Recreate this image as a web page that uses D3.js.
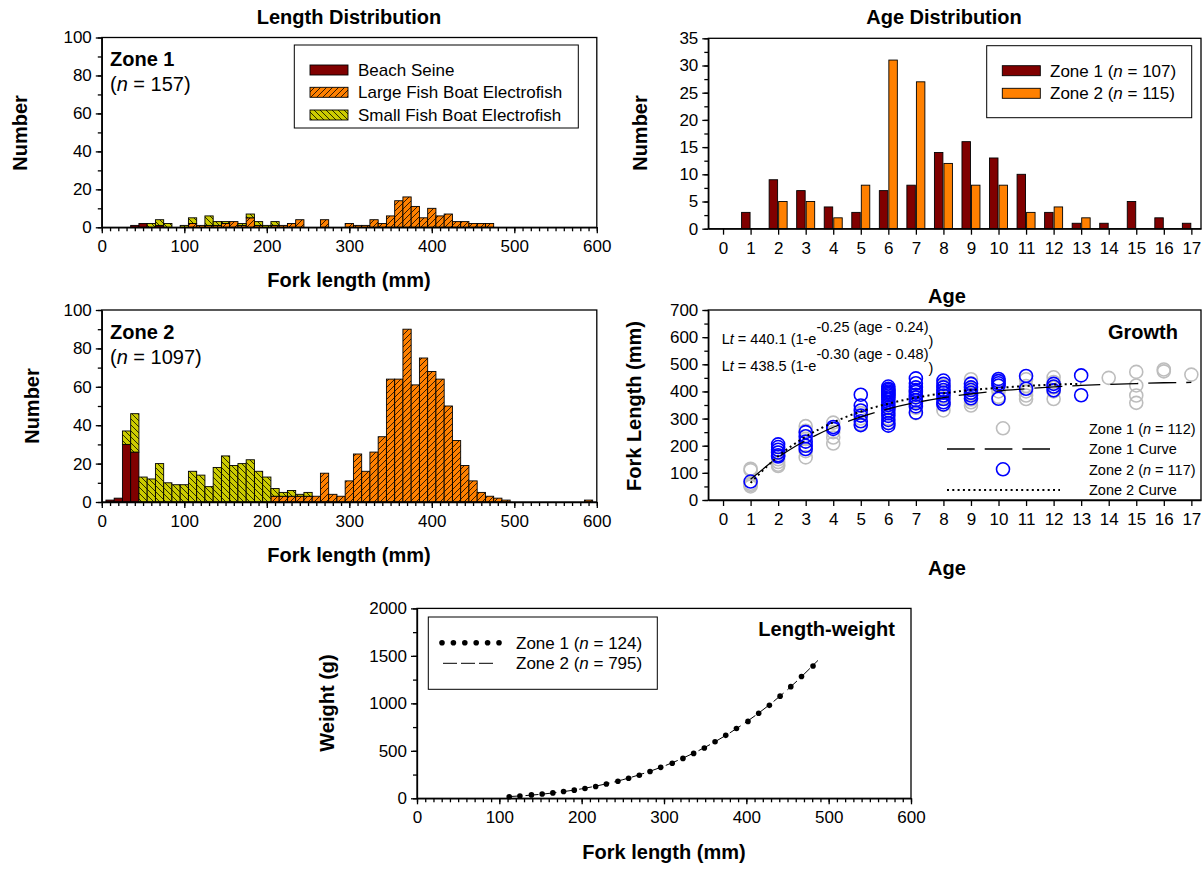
<!DOCTYPE html>
<html><head><meta charset="utf-8">
<script src="https://cdn.jsdelivr.net/npm/d3@7"></script>
<style>
body{margin:0;background:#fff;}
svg{display:block;font-family:"Liberation Sans",Arial,sans-serif;}
</style></head><body>
<svg id="c" width="1202" height="874"></svg>
<script>
// ---------------- DATA ----------------
// Length distribution, Zone 1 (bin centres, mm) and counts by gear
const z1Bins  = [40,50,60,70,80,100,110,120,130,140,150,160,170,180,190,200,210,220,230,240,270,300,310,320,330,340,350,360,370,380,390,400,410,420,430,440,450,460,470];
const z1Seine = [1,2,0,1,0, 0,0,0,0,0, 0,0,0,0,0, 0,0,0,0,0, 0,0,0,0,0, 0,0,0,0,0, 0,0,0,0,0, 0,0,0,0];
const z1Large = [0,0,0,0,0, 0,2,1,1,1, 2,3,1,5,1, 0,1,1,2,4, 4,2,1,1,4, 2,6,14,16,11, 5,10,6,7,3, 3,2,2,2];
const z1Small = [0,0,2,3,2, 1,3,0,5,2, 1,0,1,2,2, 1,2,0,0,0, 0,0,0,0,0, 0,0,0,0,0, 0,0,0,0,0, 0,0,0,0];
// Length distribution, Zone 2
const z2Bins  = [10,20,30,40,50,60,70,80,90,100,110,120,130,140,150,160,170,180,190,200,210,220,230,240,250,260,270,280,290,300,310,320,330,340,350,360,370,380,390,400,410,420,430,440,450,460,470,480,490,590];
const z2Seine = [1,2,30,26,0,0,0,0,0,0, 0,0,0,0,0,0,0,0,0,0, 0,0,0,0,0,0,0,0,0,0, 0,0,0,0,0,0,0,0,0,0, 0,0,0,0,0,0,0,0,0,0];
const z2Large = [0,0,0,0,0,0,0,0,0,0, 0,0,0,0,0,0,0,0,0,0, 3,3,3,3,3,3,15,4,3,11, 25,16,26,34,64,64,90,61,75,68, 64,50,32,19,11,5,3,2,1,1];
const z2Small = [0,0,7,20,13,12,20,10,9,9, 16,14,8,18,24,19,20,22,16,13, 4,2,3,1,2,0,0,0,0,0, 0,0,0,0,0,0,0,0,0,0, 0,0,0,0,0,0,0,0,0,0];
const lenTicks   = [0,100,200,300,400,500,600];
const countTicks = [0,20,40,60,80,100];

// Age distribution
const ages     = [1,2,3,4,5,6,7,8,9,10,11,12,13,14,15,16,17];
const ageZone1 = [3,9,7,4,3,7,8,14,16,13,10,3,1,1,5,2,1];
const ageZone2 = [0,5,5,2,8,31,27,12,8,8,3,4,2,0,0,0,0];
const ageTicks = [0,1,2,3,4,5,6,7,8,9,10,11,12,13,14,15,16,17];
const ageCountTicks = [0,5,10,15,20,25,30,35];

// Growth (age, fork length)
const g1Age = [1,1,1,1,1, 2,2,2,2,2, 3,3,3,3,3, 4,4,4,4, 5,5,5, 6,6,6,6,6,6, 7,7,7,7,7, 8,8,8,8,8, 9,9,9,9,9,9,9, 10,10,10,10, 11,11,11,11,11, 12,12,12,12,12, 14, 15,15,15,15, 16,16, 17];
const g1Len = [115,110,60,55,50, 175,150,140,130,125, 272,255,225,180,157, 285,250,230,208, 320,300,280, 395,380,360,340,300,285, 400,380,360,340,320, 420,400,380,350,330, 445,430,410,390,370,360,348, 440,420,400,380, 445,420,400,385,372, 452,435,415,400,372, 450, 472,422,385,358, 481,474, 462];
const g2Age = [1, 2,2,2,2,2,2, 3,3,3,3,3, 4,4, 5,5,5,5,5,5, 6,6,6,6,6,6,6,6,6,6,6,6,6,6,6,6,6,6, 7,7,7,7,7,7,7,7,7,7,7, 8,8,8,8,8,8,8,8,8, 9,9,9,9,9,9, 10,10,10,10,10, 11,11, 12,12,12, 13,13];
const g2Len = [68, 205,195,185,175,165,160, 250,235,215,200,188, 269,262, 388,348,330,311,290,276, 418,410,405,400,395,390,385,378,370,360,350,340,330,320,310,295,283,274, 448,430,415,405,398,388,378,368,356,345,322, 440,428,415,405,395,385,372,360,352, 428,415,405,395,385,375, 446,438,430,422,373, 457,410, 428,418,404, 459,386];
const curve1Age = [1,2,3,4,5,6,7,8,9,10,11,12,13,14,15,16,17];
const curve1Len = [76,157,219,268,306,336,359,377,391,402,410,417,422,426,429,432,433];
const curve2Age = [1,2,3,4,5,6,7,8,9,10,11,12,13];
const curve2Len = [63,161,233,286,326,355,377,393,405,413,420,425,428];
const growthTicks = [0,100,200,300,400,500,600,700];

// Length-weight
const lw1Len = [112,125,139,152,165,178,191,204,217,230,244,257,270,283,296,310,323,336,349,362,375,388,402,415,428,441,454,467,481];
const lw1Wt  = [17,25,36,46,57,71,86,103,125,151,179,211,243,283,326,369,420,473,530,595,663,735,810,896,979,1076,1176,1283,1394];
const lw2Len = [110,150,200,250,300,350,400,450,487];
const lw2Wt  = [17,42,100,196,339,538,804,1144,1452];
const weightTicks = [0,500,1000,1500,2000];

// ---------------- DRAWING ----------------
const svg = d3.select('#c');
const defs = svg.append('defs');
function hatch(id, color, fwd) {
  const p = defs.append('pattern').attr('id', id).attr('patternUnits','userSpaceOnUse')
    .attr('width',6).attr('height',6);
  p.append('rect').attr('width',6).attr('height',6).attr('fill',color);
  p.append('path').attr('d', fwd ? 'M-1,1 L1,-1 M0,6 L6,0 M5,7 L7,5' : 'M-1,5 L1,7 M0,0 L6,6 M5,-1 L7,1')
    .attr('stroke','#000').attr('stroke-width',0.8);
}
hatch('pLarge', '#FF8000', true);
hatch('pSmall', '#CCCC00', false);
const FILL = {seine:'#800000', large:'url(#pLarge)', small:'url(#pSmall)'};

function styleAxis(s) {
  s.selectAll('.domain').attr('stroke','#000').attr('stroke-width',1.3);
  s.selectAll('.tick line').attr('stroke','#000').attr('stroke-width',1.3);
  s.selectAll('text').attr('font-size',17).attr('fill','#000').attr('font-family','"Liberation Sans",Arial,sans-serif');
  s.attr('font-family', null).attr('font-size', null);
}
function drawAxes(g, x, y, o) {
  const [x0,x1] = x.range(), [y0,y1] = y.range();
  g.append('rect').attr('x',x0).attr('y',y1).attr('width',x1-x0).attr('height',y0-y1)
    .attr('fill','none').attr('stroke','#000').attr('stroke-width',1.3);
  if (o.xMinor) g.append('g').attr('transform',`translate(0,${y0})`)
    .call(d3.axisBottom(x).tickValues(o.xMinor).tickSize(4).tickSizeOuter(0).tickFormat(''))
    .call(s=>s.select('.domain').remove()).call(styleAxis);
  if (o.yMinor) g.append('g').attr('transform',`translate(${x0},0)`)
    .call(d3.axisLeft(y).tickValues(o.yMinor).tickSize(4).tickSizeOuter(0).tickFormat(''))
    .call(s=>s.select('.domain').remove()).call(styleAxis);
  g.append('g').attr('transform',`translate(0,${y0})`)
    .call(d3.axisBottom(x).tickValues(o.xMajor).tickSize(6).tickSizeOuter(0).tickPadding(7).tickFormat(d=>d))
    .call(styleAxis);
  g.append('g').attr('transform',`translate(${x0},0)`)
    .call(d3.axisLeft(y).tickValues(o.yMajor).tickSize(6).tickSizeOuter(0).tickPadding(4).tickFormat(d=>d))
    .call(styleAxis);
}
function txt(x, y, s, o={}) {
  const t = svg.append('text').attr('x',x).attr('y',y).attr('font-size',o.size||17)
    .attr('font-weight',o.bold?'bold':'normal').attr('text-anchor',o.anchor||'start').attr('fill','#000');
  if (o.rot) t.attr('transform',`rotate(-90,${x},${y})`);
  return t.text(s);
}
function nText(x, y, pre, num, post, size, anchor) {
  const t = svg.append('text').attr('x',x).attr('y',y).attr('font-size',size).attr('fill','#000')
    .attr('text-anchor',anchor||'start');
  t.append('tspan').text(pre + '(');
  t.append('tspan').attr('font-style','italic').text('n');
  t.append('tspan').text(' = ' + num + ')' + (post||''));
  return t;
}

// ---- Histograms ----
function histogram(bins, seine, large, small, box) {
  const x = d3.scaleLinear().domain([0,600]).range([box.l, box.r]);
  const y = d3.scaleLinear().domain([0,100]).range([box.b, box.t]);
  const rows = bins.map((b,i)=>({bin:b, seine:seine[i], large:large[i], small:small[i]}));
  const series = d3.stack().keys(['seine','large','small'])(rows);
  const g = svg.append('g');
  g.selectAll('g.s').data(series).join('g').attr('fill', d=>FILL[d.key])
    .selectAll('rect').data(d=>d.filter(p=>p[1]>p[0])).join('rect')
    .attr('x', d=>x(d.data.bin-5)).attr('width', d=>x(d.data.bin+5)-x(d.data.bin-5))
    .attr('y', d=>y(d[1])).attr('height', d=>y(d[0])-y(d[1]))
    .attr('stroke','#000').attr('stroke-width',0.9);
  drawAxes(g, x, y, {xMajor:lenTicks, xMinor:d3.range(0,601,10), yMajor:countTicks, yMinor:d3.range(0,101,10)});
}
histogram(z1Bins, z1Seine, z1Large, z1Small, {l:101.8, r:596.8, t:37.5, b:227.3});
histogram(z2Bins, z2Seine, z2Large, z2Small, {l:101.8, r:596.8, t:310, b:502});

txt(349, 24, 'Length Distribution', {bold:true, size:20, anchor:'middle'});
txt(349, 287, 'Fork length (mm)', {bold:true, size:20, anchor:'middle'});
txt(349, 562, 'Fork length (mm)', {bold:true, size:20, anchor:'middle'});
txt(27, 133, 'Number', {bold:true, size:20, anchor:'middle', rot:true});
txt(39, 406, 'Number', {bold:true, size:20, anchor:'middle', rot:true});
txt(110, 66, 'Zone 1', {bold:true, size:20});
nText(110, 91, '', '157', '', 20);
txt(110, 339, 'Zone 2', {bold:true, size:20});
nText(110, 364, '', '1097', '', 20);

// length legend
svg.append('rect').attr('x',294.3).attr('y',45).attr('width',284).attr('height',83)
  .attr('fill','#fff').attr('stroke','#000').attr('stroke-width',1);
[['seine','Beach Seine',70],['large','Large Fish Boat Electrofish',92.3],['small','Small Fish Boat Electrofish',115]]
  .forEach(([k,label,cy])=>{
    svg.append('rect').attr('x',310).attr('y',cy-5).attr('width',38).attr('height',10)
      .attr('fill',FILL[k]).attr('stroke','#000').attr('stroke-width',0.9);
    txt(358, cy+6, label, {size:17});
  });

// ---- Age distribution ----
{
  const x = d3.scaleLinear().domain([-0.535, 17.35]).range([708.3, 1201]);
  const y = d3.scaleLinear().domain([0,35]).range([228.7, 38.3]);
  const sub = d3.scaleBand().domain(['z1','z2']).range([-9,9]).paddingInner(0.11);
  const rows = ages.map((a,i)=>({age:a, z1:ageZone1[i], z2:ageZone2[i]}));
  const g = svg.append('g');
  const col = {z1:'#800000', z2:'#FF8000'};
  ['z1','z2'].forEach(k=>{
    g.append('g').selectAll('rect').data(rows.filter(r=>r[k]>0)).join('rect')
      .attr('x', d=>x(d.age)+sub(k)).attr('width', sub.bandwidth())
      .attr('y', d=>y(d[k])).attr('height', d=>y(0)-y(d[k]))
      .attr('fill', col[k]).attr('stroke','#000').attr('stroke-width',0.9);
  });
  drawAxes(g, x, y, {xMajor:ageTicks, yMajor:ageCountTicks, yMinor:d3.range(0,35.1,2.5)});
  svg.append('rect').attr('x',986.7).attr('y',45.7).attr('width',205).attr('height',72)
    .attr('fill','#fff').attr('stroke','#000').attr('stroke-width',1);
  [['z1','1','107',70.7],['z2','2','115',93.3]].forEach(([k,z,n,cy])=>{
    svg.append('rect').attr('x',1002.3).attr('y',cy-5).attr('width',38).attr('height',10)
      .attr('fill',col[k]).attr('stroke','#000').attr('stroke-width',0.9);
    nText(1050, cy+6, 'Zone '+z+' ', n, '', 17);
  });
  txt(944, 24, 'Age Distribution', {bold:true, size:20, anchor:'middle'});
  txt(947, 303, 'Age', {bold:true, size:20, anchor:'middle'});
  txt(647, 133, 'Number', {bold:true, size:20, anchor:'middle', rot:true});
}

// ---- Growth ----
{
  const x = d3.scaleLinear().domain([-0.535, 17.35]).range([708.3, 1201]);
  const y = d3.scaleLinear().domain([0,700]).range([500, 310]);
  const g = svg.append('g');
  const p1 = g1Age.map((a,i)=>({a, l:g1Len[i]}));
  const p2 = g2Age.map((a,i)=>({a, l:g2Len[i]}));
  g.append('g').selectAll('circle').data(p1).join('circle')
    .attr('cx', d=>x(d.a)).attr('cy', d=>y(d.l)).attr('r',6.5)
    .attr('fill','none').attr('stroke','#bdbdbd').attr('stroke-width',1.6);
  g.append('g').selectAll('circle').data(p2).join('circle')
    .attr('cx', d=>x(d.a)).attr('cy', d=>y(d.l)).attr('r',6.5)
    .attr('fill','none').attr('stroke','#0000ff').attr('stroke-width',1.6);
  const line = d3.line().x(d=>x(d[0])).y(d=>y(d[1])).curve(d3.curveMonotoneX);
  g.append('path').attr('d', line(curve1Age.map((a,i)=>[a,curve1Len[i]])))
    .attr('fill','none').attr('stroke','#000').attr('stroke-width',1.3).attr('stroke-dasharray','28,10');
  g.append('path').attr('d', line(curve2Age.map((a,i)=>[a,curve2Len[i]])))
    .attr('fill','none').attr('stroke','#000').attr('stroke-width',2).attr('stroke-dasharray','2,3.3');
  drawAxes(g, x, y, {xMajor:ageTicks, yMajor:growthTicks, yMinor:d3.range(0,701,50)});

  function eq(yb, a, k, t0) {
    const t = svg.append('text').attr('x',721.7).attr('y',yb).attr('font-size',14.5).attr('fill','#000');
    t.append('tspan').text('L');
    t.append('tspan').attr('font-style','italic').text('t');
    t.append('tspan').text(' = ' + a + ' (1-e');
    t.append('tspan').attr('dy',-12.5).text('-' + k + ' (age - ' + t0 + ')');
    t.append('tspan').attr('dy',14.5).text(')');
  }
  eq(344, '440.1', '0.25', '0.24');
  eq(371, '438.5', '0.30', '0.48');
  txt(1143, 339, 'Growth', {bold:true, size:20, anchor:'middle'});
  // legend
  svg.append('circle').attr('cx',1003).attr('cy',428.3).attr('r',6.5).attr('fill','none').attr('stroke','#bdbdbd').attr('stroke-width',1.6);
  svg.append('circle').attr('cx',1003).attr('cy',469.3).attr('r',6.5).attr('fill','none').attr('stroke','#0000ff').attr('stroke-width',1.6);
  svg.append('line').attr('x1',947).attr('x2',1050).attr('y1',449).attr('y2',449).attr('stroke','#000').attr('stroke-width',1.3).attr('stroke-dasharray','27.7,10');
  svg.append('line').attr('x1',947).attr('x2',1060).attr('y1',490).attr('y2',490).attr('stroke','#000').attr('stroke-width',2).attr('stroke-dasharray','2,3.3');
  nText(1089, 433.5, 'Zone 1 ', '112', '', 14.5);
  txt(1089, 454, 'Zone 1 Curve', {size:14.5});
  nText(1089, 474.5, 'Zone 2 ', '117', '', 14.5);
  txt(1089, 495, 'Zone 2 Curve', {size:14.5});
  txt(947, 575, 'Age', {bold:true, size:20, anchor:'middle'});
  txt(641, 406, 'Fork Length (mm)', {bold:true, size:20, anchor:'middle', rot:true});
}

// ---- Length-weight ----
{
  const x = d3.scaleLinear().domain([0,600]).range([417, 911]);
  const y = d3.scaleLinear().domain([0,2000]).range([798.3, 608.4]);
  const g = svg.append('g');
  const line = d3.line().x(d=>x(d[0])).y(d=>y(d[1])).curve(d3.curveMonotoneX);
  g.append('path').attr('d', line(lw2Len.map((l,i)=>[l,lw2Wt[i]])))
    .attr('fill','none').attr('stroke','#000').attr('stroke-width',1).attr('stroke-dasharray','13,5');
  g.append('g').selectAll('circle').data(lw1Len.map((l,i)=>[l,lw1Wt[i]])).join('circle')
    .attr('cx', d=>x(d[0])).attr('cy', d=>y(d[1])).attr('r',2.8).attr('fill','#000');
  drawAxes(g, x, y, {xMajor:lenTicks, xMinor:d3.range(0,601,10), yMajor:weightTicks, yMinor:d3.range(0,2001,250)});
  svg.append('rect').attr('x',428.3).attr('y',617).attr('width',229).attr('height',72.3)
    .attr('fill','#fff').attr('stroke','#000').attr('stroke-width',1);
  [442,453.4,464.8,476.2,487.6,499].forEach(cx=>svg.append('circle').attr('cx',cx).attr('cy',642.7).attr('r',2.8).attr('fill','#000'));
  svg.append('line').attr('x1',443).attr('x2',493).attr('y1',663.3).attr('y2',663.3).attr('stroke','#000').attr('stroke-width',1).attr('stroke-dasharray','14,4');
  nText(516, 648.7, 'Zone 1 ', '124', '', 17);
  nText(516, 669.3, 'Zone 2 ', '795', '', 17);
  txt(895, 636, 'Length-weight', {bold:true, size:20, anchor:'end'});
  txt(664, 859, 'Fork length (mm)', {bold:true, size:20, anchor:'middle'});
  txt(334, 703, 'Weight (g)', {bold:true, size:20, anchor:'middle', rot:true});
}
</script></body></html>
